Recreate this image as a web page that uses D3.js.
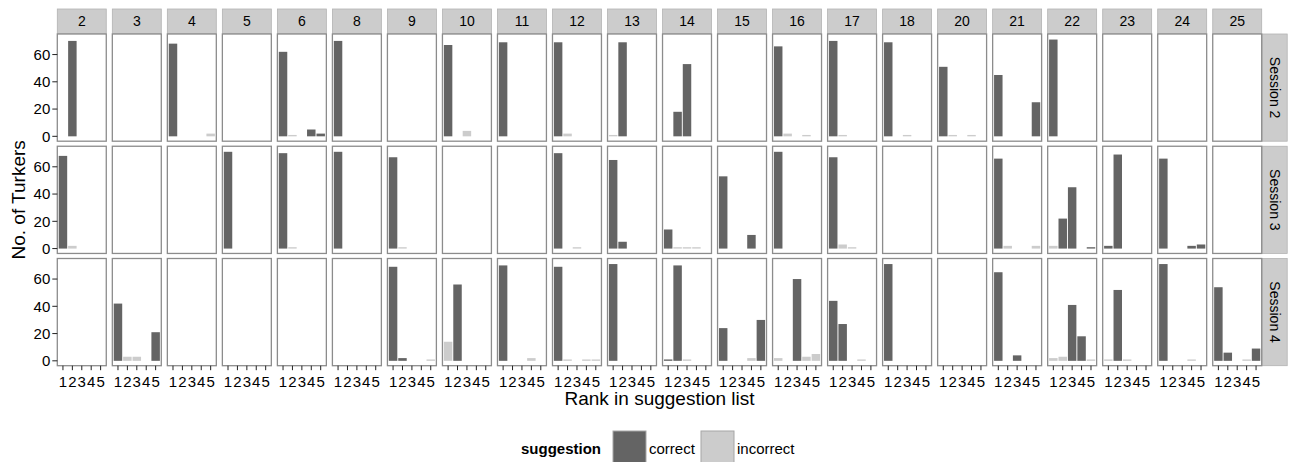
<!DOCTYPE html>
<html>
<head>
<meta charset="utf-8">
<script src="https://cdn.jsdelivr.net/npm/d3@7"></script>
<style>
  body { margin: 0; background: #fff; }
  text { font-family: "Liberation Sans", Arial, sans-serif; }
</style>
</head>
<body>
<div id="chart"></div>
<script>
// facets and categories
const words = ["2", "3", "4", "5", "6", "8", "9", "10", "11", "12", "13", "14", "15", "16", "17", "18", "20", "21", "22", "23", "24", "25"];
const sessions = ["Session 2", "Session 3", "Session 4"];
const ranks = [1, 2, 3, 4, 5];
const suggestionTypes = ["correct", "incorrect"];
const yTicks = [0, 20, 40, 60];

// [word, rank, suggestion, turkers]
const session2Bars = [
    ["2", 2, "correct", 70],
    ["4", 1, "correct", 68], ["4", 5, "incorrect", 2],
    ["6", 1, "correct", 62], ["6", 2, "incorrect", 1], ["6", 4, "correct", 5], ["6", 5, "correct", 2],
    ["8", 1, "correct", 70],
    ["10", 1, "correct", 67], ["10", 3, "incorrect", 4],
    ["11", 1, "correct", 69],
    ["12", 1, "correct", 69], ["12", 2, "incorrect", 2],
    ["13", 1, "incorrect", 1], ["13", 2, "correct", 69],
    ["14", 2, "correct", 18], ["14", 3, "correct", 53],
    ["16", 1, "correct", 66], ["16", 2, "incorrect", 2], ["16", 4, "incorrect", 1],
    ["17", 1, "correct", 70], ["17", 2, "incorrect", 1],
    ["18", 1, "correct", 69], ["18", 3, "incorrect", 1],
    ["20", 1, "correct", 51], ["20", 2, "incorrect", 1], ["20", 4, "incorrect", 1],
    ["21", 1, "correct", 45], ["21", 5, "correct", 25],
    ["22", 1, "correct", 71]
];

const session3Bars = [
    ["2", 1, "correct", 68], ["2", 2, "incorrect", 2],
    ["5", 1, "correct", 71],
    ["6", 1, "correct", 70], ["6", 2, "incorrect", 1],
    ["8", 1, "correct", 71],
    ["9", 1, "correct", 67], ["9", 2, "incorrect", 1],
    ["12", 1, "correct", 70], ["12", 3, "incorrect", 1],
    ["13", 1, "correct", 65], ["13", 2, "correct", 5],
    ["14", 1, "correct", 14], ["14", 2, "incorrect", 1], ["14", 3, "incorrect", 1], ["14", 4, "incorrect", 1],
    ["15", 1, "correct", 53], ["15", 4, "correct", 10],
    ["16", 1, "correct", 71],
    ["17", 1, "correct", 67], ["17", 2, "incorrect", 3], ["17", 3, "incorrect", 1],
    ["21", 1, "correct", 66], ["21", 2, "incorrect", 2], ["21", 5, "incorrect", 2],
    ["22", 1, "incorrect", 2], ["22", 2, "correct", 22], ["22", 3, "correct", 45], ["22", 5, "correct", 1],
    ["23", 1, "correct", 2], ["23", 2, "correct", 69],
    ["24", 1, "correct", 66], ["24", 4, "correct", 2], ["24", 5, "correct", 3]
];

const session4Bars = [
    ["3", 1, "correct", 42], ["3", 2, "incorrect", 3], ["3", 3, "incorrect", 3], ["3", 5, "correct", 21],
    ["9", 1, "correct", 69], ["9", 2, "correct", 2], ["9", 5, "incorrect", 1],
    ["10", 1, "incorrect", 14], ["10", 2, "correct", 56],
    ["11", 1, "correct", 70], ["11", 4, "incorrect", 2],
    ["12", 1, "correct", 69], ["12", 2, "incorrect", 1], ["12", 4, "incorrect", 1], ["12", 5, "incorrect", 1],
    ["13", 1, "correct", 71],
    ["14", 1, "correct", 1], ["14", 2, "correct", 70], ["14", 3, "incorrect", 1],
    ["15", 1, "correct", 24], ["15", 4, "incorrect", 2], ["15", 5, "correct", 30],
    ["16", 1, "incorrect", 2], ["16", 3, "correct", 60], ["16", 4, "incorrect", 3], ["16", 5, "incorrect", 5],
    ["17", 1, "correct", 44], ["17", 2, "correct", 27], ["17", 4, "incorrect", 1],
    ["18", 1, "correct", 71],
    ["21", 1, "correct", 65], ["21", 3, "correct", 4],
    ["22", 1, "incorrect", 2], ["22", 2, "incorrect", 3], ["22", 3, "correct", 41], ["22", 4, "correct", 18], ["22", 5, "incorrect", 1],
    ["23", 1, "incorrect", 1], ["23", 2, "correct", 52], ["23", 3, "incorrect", 1],
    ["24", 1, "correct", 71], ["24", 4, "incorrect", 1],
    ["25", 1, "correct", 54], ["25", 2, "correct", 6], ["25", 4, "incorrect", 1], ["25", 5, "correct", 9]
];

const barsBySession = [session2Bars, session3Bars, session4Bars];
const fillColors = ["#646464", "#cccccc"];

// Dimensions
const width = 1293;
const height = 462;
const plotLeft = 57.3, plotRight = 1261.7;
const plotTop = 34, plotBottom = 365.7;

const svg = d3.select("#chart").append("svg")
    .attr("width", width)
    .attr("height", height);

// facet layout scales
const colScale = d3.scaleBand().domain(words).range([plotLeft, plotRight]).paddingInner(0.11);
const rowScale = d3.scaleBand().domain(sessions).range([plotTop, plotBottom]).paddingInner(0.045);
const panelW = colScale.bandwidth();
const panelH = rowScale.bandwidth();

// inside a panel: discrete x (ggplot style expansion), y with 5% expansion
const x = d3.scaleBand().domain(ranks).range([0, panelW]).paddingInner(0.1).paddingOuter(0.15);
const yMax = 71.5;
const y = d3.scaleLinear().domain([-yMax * 0.05, yMax * 1.05]).range([panelH, 0]);
const color = d3.scaleOrdinal().domain(suggestionTypes).range(fillColors);

// top strips
words.forEach(w => {
    const g = svg.append("g").attr("transform", `translate(${colScale(w)}, 9)`);
    g.append("rect")
        .attr("width", panelW).attr("height", plotTop - 9.5)
        .attr("fill", "#cccccc").attr("stroke", "#b3b3b3").attr("stroke-width", 0.8);
    g.append("text")
        .attr("x", panelW / 2).attr("y", (plotTop - 9.5) / 2)
        .attr("dy", "0.36em").attr("text-anchor", "middle")
        .attr("font-size", "14px").attr("fill", "#000")
        .text(w);
});

// right strips
sessions.forEach(s => {
    const g = svg.append("g").attr("transform", `translate(${plotRight + 0.5}, ${rowScale(s)})`);
    g.append("rect")
        .attr("width", 25).attr("height", panelH)
        .attr("fill", "#cccccc").attr("stroke", "#b3b3b3").attr("stroke-width", 0.8);
    g.append("text")
        .attr("transform", `translate(12.5, ${panelH / 2}) rotate(90)`)
        .attr("dy", "0.36em").attr("text-anchor", "middle")
        .attr("font-size", "14px").attr("fill", "#000")
        .text(s);
});

// panels
sessions.forEach((s, si) => {
    const bars = barsBySession[si];
    words.forEach(w => {
        const g = svg.append("g").attr("transform", `translate(${colScale(w)}, ${rowScale(s)})`);
        g.append("rect")
            .attr("width", panelW).attr("height", panelH)
            .attr("fill", "white");

        g.selectAll("rect.bar")
            .data(bars.filter(d => d[0] === w))
            .join("rect")
            .attr("class", "bar")
            .attr("x", d => x(d[1]))
            .attr("width", x.bandwidth())
            .attr("y", d => y(d[3]))
            .attr("height", d => y(0) - y(d[3]))
            .attr("fill", d => color(d[2]));

        g.append("rect")
            .attr("width", panelW).attr("height", panelH)
            .attr("fill", "none").attr("stroke", "#8c8c8c").attr("stroke-width", 1.3);

        // y axis on the first column
        if (w === words[0]) {
            const ax = g.append("g");
            ax.selectAll("line").data(yTicks).join("line")
                .attr("x1", -5).attr("x2", 0)
                .attr("y1", d => y(d)).attr("y2", d => y(d))
                .attr("stroke", "#222").attr("stroke-width", 1);
            ax.selectAll("text").data(yTicks).join("text")
                .attr("x", -7).attr("y", d => y(d))
                .attr("dy", "0.36em").attr("text-anchor", "end")
                .attr("font-size", "15px").attr("fill", "#000")
                .text(d => d);
        }

        // x axis on the bottom row
        if (si === sessions.length - 1) {
            const ax = g.append("g").attr("transform", `translate(0, ${panelH})`);
            ax.selectAll("line").data(ranks).join("line")
                .attr("x1", d => x(d) + x.bandwidth() / 2).attr("x2", d => x(d) + x.bandwidth() / 2)
                .attr("y1", 0).attr("y2", 4.5)
                .attr("stroke", "#222").attr("stroke-width", 1);
            ax.selectAll("text").data(ranks).join("text")
                .attr("x", d => x(d) + x.bandwidth() / 2).attr("y", 21)
                .attr("text-anchor", "middle")
                .attr("font-size", "15px").attr("fill", "#000")
                .text(d => d);
        }
    });
});

// axis titles
svg.append("text")
    .attr("x", (plotLeft + plotRight) / 2).attr("y", 405)
    .attr("text-anchor", "middle").attr("font-size", "19px")
    .text("Rank in suggestion list");

svg.append("text")
    .attr("transform", `translate(25, ${(plotTop + plotBottom) / 2}) rotate(-90)`)
    .attr("text-anchor", "middle").attr("font-size", "19px")
    .text("No. of Turkers");

// legend
const legend = svg.append("g").attr("transform", "translate(521, 431)");
legend.append("text")
    .attr("x", 0).attr("y", 23)
    .attr("font-size", "15px").attr("font-weight", "bold")
    .text("suggestion");

const keyX = [92, 180];
suggestionTypes.forEach((t, i) => {
    legend.append("rect")
        .attr("x", keyX[i]).attr("y", 0)
        .attr("width", 33).attr("height", 34)
        .attr("fill", color(t)).attr("stroke", "#a6a6a6").attr("stroke-width", 1);
    legend.append("text")
        .attr("x", keyX[i] + 36).attr("y", 23)
        .attr("font-size", "15px")
        .text(t);
});
</script>
</body>
</html>
